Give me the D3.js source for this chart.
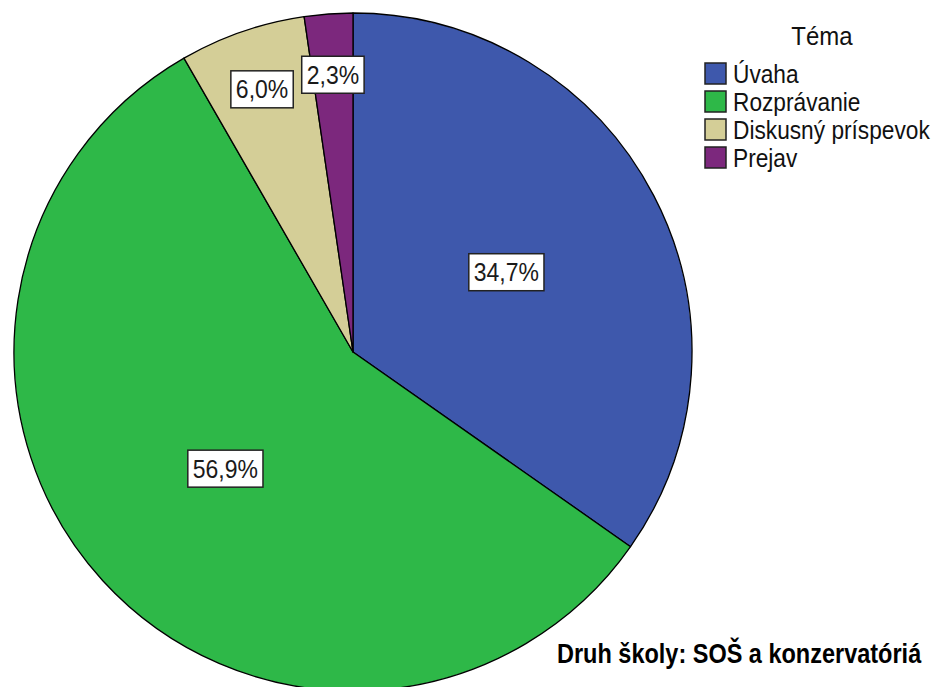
<!DOCTYPE html>
<html><head><meta charset="utf-8">
<script src="https://cdn.jsdelivr.net/npm/d3@7"></script>
<style>body{margin:0;background:#fff}svg{display:block}text{font-family:"Liberation Sans",Arial,sans-serif}</style>
</head><body>
<svg id="c" width="936" height="687"></svg>
<script>
const categories = ["Úvaha","Rozprávanie","Diskusný príspevok","Prejav"];
const values = [34.7, 56.9, 6.0, 2.3];
const valueLabels = ["34,7%","56,9%","6,0%","2,3%"];
const colors = ["#3E58AC","#2EB848","#D4CE97","#7C287D"];
const legendTitle = "Téma";
const footer = "Druh školy: SOŠ a konzervatóriá";

const svg = d3.select("#c");
svg.append("rect").attr("width",936).attr("height",687).attr("fill","#fff");
const cx = 353, cy = 352, R = 339;
const sy = 1.1;
const data = categories.map((c,i)=>({cat:c, v:values[i], lab:valueLabels[i], col:colors[i]}));
const pie = d3.pie().value(d=>d.v).sort(null);
const arcs = pie(data);
const arc = d3.arc().innerRadius(0).outerRadius(R);
const g = svg.append("g").attr("transform",`translate(${cx},${cy})`);
g.selectAll("path").data(arcs).join("path")
  .attr("d",arc).attr("fill",d=>d.data.col)
  .attr("stroke","#000").attr("stroke-width",1.3).attr("stroke-linejoin","round");

const fs = 23;
arcs.forEach(a=>{
  const f = a.data.v < 10 ? 0.82 : 0.51;
  const la = d3.arc().innerRadius(R*f).outerRadius(R*f);
  const [x,y] = la.centroid(a);
  const lg = g.append("g").attr("transform",`translate(${x},${y})`);
  const t = lg.append("text").attr("text-anchor","middle").attr("y",0)
    .attr("transform",`translate(0,${fs*0.36*sy}) scale(1,${sy})`)
    .attr("font-size",fs).attr("fill","#1a1a1a").text(a.data.lab);
  const w = t.node().getComputedTextLength();
  lg.insert("rect","text").attr("x",-w/2-5).attr("y",-18.5).attr("width",w+10).attr("height",37)
    .attr("fill","#fff").attr("stroke","#222").attr("stroke-width",1.5);
});

// legend
const lx = 705, ly = 63, step = 28;
svg.append("text").attr("transform",`translate(822,45) scale(1,${sy})`).attr("text-anchor","middle")
  .attr("font-size",24).attr("fill","#111").text(legendTitle);
const leg = svg.append("g");
data.forEach((d,i)=>{
  leg.append("rect").attr("x",lx).attr("y",ly+i*step).attr("width",21).attr("height",21)
    .attr("fill",d.col).attr("stroke","#222").attr("stroke-width",1.5);
  leg.append("text").attr("transform",`translate(${lx+28},${ly+i*step+19.5}) scale(1,${sy})`)
    .attr("font-size",22.7).attr("fill","#111").text(d.cat);
});

svg.append("text").attr("transform",`translate(557,663) scale(1,1.15)`)
  .attr("font-size",23.5).attr("font-weight","bold")
  .attr("fill","#000").text(footer);
</script>
</body></html>
